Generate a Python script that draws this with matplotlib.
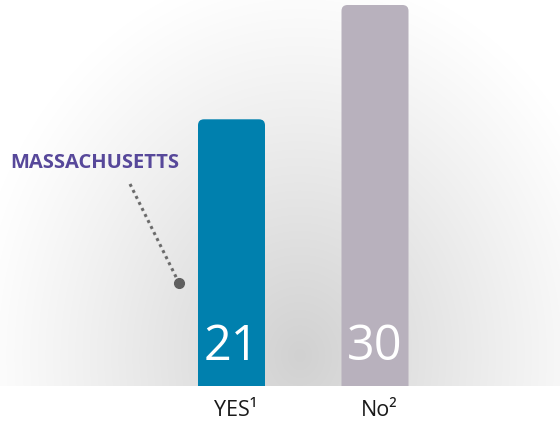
import numpy as np
import matplotlib.pyplot as plt
from matplotlib.patches import FancyBboxPatch

categories = ["YES\u00b9", "No\u00b2"]
values = [21, 30]
bar_colors = ["#0080ae", "#b8b1bd"]

W, H = 560, 427
fig = plt.figure(figsize=(W / 100, H / 100), dpi=100)
fig.patch.set_facecolor("white")

# axes spans the whole width, bottom edge is the baseline
base_px = 40
ax = fig.add_axes([0, base_px / H, 1, 1 - base_px / H])
px_per_x = 143.5
px_per_y = 12.7
x0_px = 231.5
ax.set_xlim(-x0_px / px_per_x, (W - x0_px) / px_per_x)
ax.set_ylim(0, (H - base_px) / px_per_y)
ax.axis("off")

# soft radial shading behind the bars
gx = np.linspace(0, W, 560)
gy = np.linspace(0, H - base_px, 387)
X, Y = np.meshgrid(gx, gy)
r = np.sqrt(((X - 300) / 330) ** 2 + ((Y - 30) / 390) ** 2)
shade = 1 - 0.18 * np.clip(1 - r, 0, 1) ** 1.1
img = np.dstack([shade, shade, shade])
ax.imshow(img, extent=[*ax.get_xlim(), *ax.get_ylim()], origin="lower",
          aspect="auto", zorder=0, interpolation="bilinear")

bar_w = 67 / px_per_x
rad = 6 / px_per_x
aspect = px_per_x / px_per_y
for i, (v, c) in enumerate(zip(values, bar_colors)):
    box = FancyBboxPatch((i - bar_w / 2, -2), bar_w, v + 2,
                         boxstyle=f"round,pad=0,rounding_size={rad}",
                         mutation_aspect=aspect, facecolor=c,
                         edgecolor="none", zorder=2)
    ax.add_patch(box)
    ax.text(i, 1.2, str(v), ha="center", va="bottom", color="white",
            fontsize=35, family="Open Sans", zorder=3)
    fig.text((x0_px + 4 + i * px_per_x) / W, 1 - 411 / H, categories[i],
             ha="center", va="center", fontsize=15.5, family="Open Sans",
             color="#1a1a1a")

fig.text(10 / W, 1 - 163 / H, "MASSACHUSETTS", ha="left", va="center",
         fontsize=14.5, fontweight="bold", family="Open Sans", color="#57489a")

# leader from the label down to the first bar
p1 = (130 / W, 1 - 185 / H)
p2 = (179 / W, 1 - 284 / H)
fig.add_artist(plt.Line2D([p1[0], p2[0]], [p1[1], p2[1]], color="#6b6b6b",
                          lw=2.2, linestyle=(0, (1, 1.2)),
                          transform=fig.transFigure))
fig.add_artist(plt.Line2D([p2[0]], [p2[1]], marker="o", markersize=7,
                          color="#5f5f5f", transform=fig.transFigure))

fig.savefig("out.png", dpi=100, facecolor="white")
